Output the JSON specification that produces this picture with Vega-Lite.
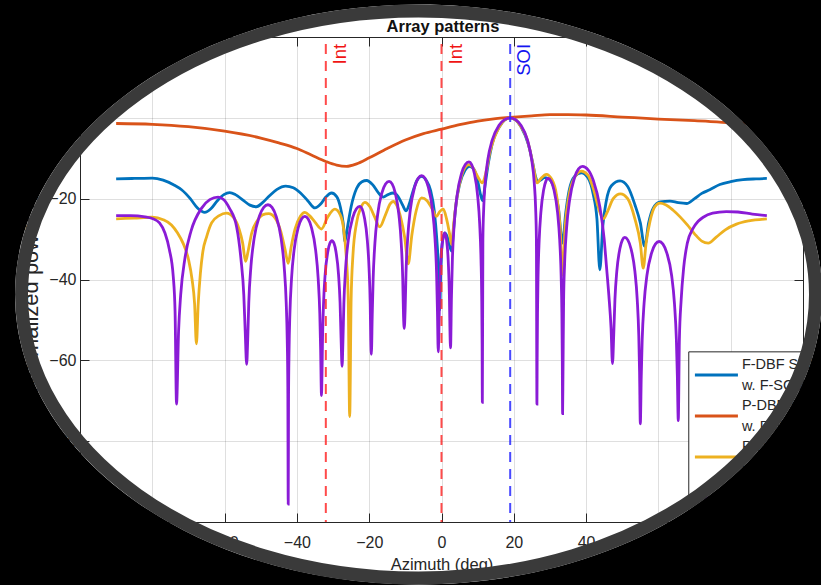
{
  "$schema": "https://vega.github.io/schema/vega-lite/v6.json",
  "width": 723,
  "height": 485,
  "autosize": {"type": "none"},
  "padding": {"left": 80, "top": 37, "right": 18, "bottom": 63},
  "background": "#ffffff",
  "config": {"view": {"stroke": "#262626", "strokeWidth": 1}},
  "datasets": {
    "blue": [
      {"az":-90,"db":-15.1},{"az":-85,"db":-15.0},{"az":-80,"db":-14.9},{"az":-77,"db":-15.4},{"az":-74,"db":-16.6},{"az":-71.9,"db":-17.8},{"az":-69.5,"db":-20.0},{"az":-67.5,"db":-22.3},{"az":-65.5,"db":-23.4},{"az":-63.8,"db":-22.5},{"az":-62,"db":-20.5},{"az":-60.2,"db":-19.0},{"az":-58.6,"db":-18.5},{"az":-57,"db":-19.0},{"az":-55,"db":-20.3},{"az":-53,"db":-21.6},{"az":-51.2,"db":-22.0},{"az":-49.5,"db":-21.0},{"az":-47.5,"db":-19.2},{"az":-45.5,"db":-17.7},{"az":-43.1,"db":-16.9},{"az":-41,"db":-17.3},{"az":-39,"db":-18.6},{"az":-37,"db":-20.5},{"az":-35,"db":-22.3},{"az":-33.5,"db":-21.4},{"az":-32,"db":-19.6},{"az":-30.4,"db":-18.6},{"az":-29,"db":-19.5},{"az":-28,"db":-22},{"az":-27.2,"db":-26},{"az":-26.7,"db":-30.6},{"az":-26,"db":-27},{"az":-25,"db":-22},{"az":-23.5,"db":-17.5},{"az":-22,"db":-15.8},{"az":-20.7,"db":-15.5},{"az":-19,"db":-16.6},{"az":-17.5,"db":-18.5},{"az":-16.1,"db":-19.6},{"az":-14.8,"db":-19.0},{"az":-13.4,"db":-18.6},{"az":-12,"db":-19.5},{"az":-10.8,"db":-21.5},{"az":-9.8,"db":-23},{"az":-8.8,"db":-21},{"az":-8,"db":-18.5},{"az":-6.8,"db":-15.5},{"az":-5.5,"db":-14.5},{"az":-4.2,"db":-15.5},{"az":-3,"db":-18},{"az":-2,"db":-23},{"az":-1.3,"db":-30},{"az":-0.8,"db":-38},{"az":-0.5,"db":-47.6},{"az":-0.2,"db":-38},{"az":0.2,"db":-31},{"az":0.9,"db":-28.5},{"az":1.6,"db":-29.5},{"az":2.2,"db":-31.5},{"az":2.8,"db":-33},{"az":3.3,"db":-28},{"az":4,"db":-21.5},{"az":5,"db":-16.5},{"az":6.5,"db":-13},{"az":7.8,"db":-12},{"az":9,"db":-12.8},{"az":10,"db":-15.5},{"az":10.8,"db":-19},{"az":11.4,"db":-20.5},{"az":12,"db":-17},{"az":13,"db":-11},{"az":14,"db":-6.5},{"az":16,"db":-2.2},{"az":17.5,"db":-0.5},{"az":19,"db":0},{"az":20.5,"db":-0.5},{"az":22,"db":-2.2},{"az":24,"db":-6.5},{"az":25.2,"db":-11},{"az":26,"db":-14.5},{"az":26.6,"db":-15.8},{"az":27.4,"db":-15.4},{"az":28.5,"db":-14.8},{"az":29.5,"db":-15.0},{"az":31,"db":-17},{"az":32.3,"db":-22},{"az":33.5,"db":-31},{"az":34.3,"db":-24},{"az":35.3,"db":-18},{"az":36.8,"db":-14.5},{"az":38.7,"db":-13.6},{"az":40.5,"db":-14.8},{"az":42,"db":-19},{"az":43,"db":-25},{"az":43.8,"db":-37.6},{"az":44.6,"db":-27},{"az":45.6,"db":-20.5},{"az":47,"db":-16.8},{"az":49.4,"db":-15.6},{"az":51.5,"db":-17},{"az":53.5,"db":-21.5},{"az":55,"db":-26},{"az":56.2,"db":-31.8},{"az":57.3,"db":-26},{"az":58.6,"db":-22.3},{"az":60.5,"db":-20.8},{"az":63.2,"db":-20.6},{"az":65.5,"db":-21.0},{"az":67.8,"db":-21.2},{"az":70,"db":-20.0},{"az":72,"db":-18.7},{"az":74.2,"db":-17.8},{"az":77,"db":-16.5},{"az":80,"db":-15.8},{"az":83.4,"db":-15.3},{"az":87,"db":-15.1},{"az":90,"db":-15.0}
    ],
    "orange": [
      {"az":-90,"db":-1.4},{"az":-80,"db":-1.6},{"az":-70,"db":-2.2},{"az":-60,"db":-3.3},{"az":-50,"db":-5.0},{"az":-45,"db":-6.2},{"az":-40,"db":-7.6},{"az":-36,"db":-9.2},{"az":-32,"db":-10.8},{"az":-29,"db":-11.7},{"az":-26.3,"db":-12.0},{"az":-23.5,"db":-11.4},{"az":-20,"db":-9.9},{"az":-15,"db":-7.6},{"az":-10,"db":-5.5},{"az":-5,"db":-3.9},{"az":0,"db":-2.8},{"az":5,"db":-1.7},{"az":10,"db":-0.8},{"az":15,"db":-0.2},{"az":19,"db":0.1},{"az":25,"db":0.5},{"az":30,"db":0.8},{"az":35,"db":0.8},{"az":40,"db":0.7},{"az":50,"db":0.2},{"az":60,"db":-0.3},{"az":70,"db":-0.7},{"az":80,"db":-1.2},{"az":90,"db":-1.5}
    ],
    "yellow": [
      {"az":-90,"db":-25.0},{"az":-85,"db":-24.8},{"az":-80,"db":-24.6},{"az":-77,"db":-25.2},{"az":-74.7,"db":-26.5},{"az":-73,"db":-28.5},{"az":-71.5,"db":-31},{"az":-70,"db":-35},{"az":-69,"db":-40},{"az":-68.3,"db":-46},{"az":-67.8,"db":-55.9},{"az":-67.3,"db":-46},{"az":-66.7,"db":-38.5},{"az":-66.0,"db":-33},{"az":-65,"db":-29.5},{"az":-63.6,"db":-26},{"az":-61.5,"db":-24.2},{"az":-59.5,"db":-23.6},{"az":-57.5,"db":-24.7},{"az":-56,"db":-27.5},{"az":-55,"db":-31},{"az":-54.2,"db":-35.5},{"az":-53.5,"db":-33},{"az":-52.5,"db":-28.5},{"az":-51,"db":-25.5},{"az":-49.5,"db":-24},{"az":-47.8,"db":-23.7},{"az":-46,"db":-24.8},{"az":-44.5,"db":-28},{"az":-43.3,"db":-32.5},{"az":-42.4,"db":-36},{"az":-41.6,"db":-32},{"az":-40.5,"db":-27.5},{"az":-39,"db":-24.3},{"az":-37.8,"db":-23.4},{"az":-36.5,"db":-24.2},{"az":-35,"db":-25.8},{"az":-33.2,"db":-27.5},{"az":-31.5,"db":-24.6},{"az":-29.5,"db":-22.6},{"az":-28,"db":-24},{"az":-27,"db":-28},{"az":-26.3,"db":-35},{"az":-25.8,"db":-45},{"az":-25.4,"db":-73.9},{"az":-25.0,"db":-45},{"az":-24.5,"db":-34},{"az":-23.5,"db":-26},{"az":-22.3,"db":-22.2},{"az":-21.2,"db":-20.9},{"az":-19.8,"db":-22},{"az":-18.5,"db":-24.5},{"az":-17.1,"db":-27},{"az":-15.5,"db":-24},{"az":-14.2,"db":-21.3},{"az":-13.4,"db":-20.7},{"az":-12.3,"db":-21.8},{"az":-11.2,"db":-25},{"az":-10.2,"db":-29.5},{"az":-9.2,"db":-36.1},{"az":-8.2,"db":-29},{"az":-7,"db":-23},{"az":-5.5,"db":-19.8},{"az":-4,"db":-20.5},{"az":-2.6,"db":-22.5},{"az":-1.4,"db":-24.4},{"az":-0.5,"db":-23.2},{"az":0.5,"db":-22.6},{"az":1.4,"db":-25},{"az":2.2,"db":-28.5},{"az":2.8,"db":-31.4},{"az":3.4,"db":-26},{"az":4.3,"db":-19.5},{"az":5.5,"db":-14.5},{"az":6.5,"db":-12.3},{"az":7.6,"db":-11.6},{"az":8.8,"db":-12.5},{"az":10,"db":-14.5},{"az":11.3,"db":-16.1},{"az":12.3,"db":-13.5},{"az":13.4,"db":-8.5},{"az":14.5,"db":-5.2},{"az":16,"db":-2.2},{"az":17.5,"db":-0.5},{"az":19,"db":0},{"az":20.5,"db":-0.5},{"az":22,"db":-2.2},{"az":23.5,"db":-4.8},{"az":24.6,"db":-8.5},{"az":25.6,"db":-13},{"az":26.4,"db":-16.1},{"az":27.5,"db":-15},{"az":29,"db":-14},{"az":30.5,"db":-15.2},{"az":31.8,"db":-19},{"az":32.8,"db":-27},{"az":33.5,"db":-38.9},{"az":34.2,"db":-27},{"az":35.2,"db":-19.5},{"az":36.8,"db":-14.8},{"az":38.7,"db":-13.2},{"az":40.5,"db":-14.2},{"az":42,"db":-17.5},{"az":43.5,"db":-22.5},{"az":44.8,"db":-25},{"az":46,"db":-23},{"az":47.5,"db":-20},{"az":49.5,"db":-18.8},{"az":51.5,"db":-20},{"az":53.5,"db":-25},{"az":55,"db":-31},{"az":55.8,"db":-37.2},{"az":56.6,"db":-31},{"az":57.7,"db":-25.5},{"az":59,"db":-22},{"az":60.4,"db":-21.1},{"az":62,"db":-21.5},{"az":64,"db":-22.8},{"az":66,"db":-24.5},{"az":68,"db":-26.5},{"az":70,"db":-28.7},{"az":72,"db":-30.5},{"az":73.8,"db":-31},{"az":76,"db":-29.5},{"az":78.5,"db":-27.7},{"az":81.6,"db":-26.3},{"az":85,"db":-25.5},{"az":90,"db":-25.0}
    ],
    "purple": [
      {"az":-90,"db":-24.2},{"az":-86,"db":-24.2},{"az":-82,"db":-24.5},{"az":-80,"db":-24.9},{"az":-78,"db":-26.0},{"az":-76.5,"db":-28.5},{"az":-75.3,"db":-32.5},{"az":-74.2,"db":-39.3},{"az":-73.7,"db":-48},{"az":-73.3,"db":-70.8},
      {"az":-72.73,"db":-52.8},{"az":-72.15,"db":-43.8},{"az":-71.0,"db":-34.9},{"az":-69.28,"db":-28.0},{"az":-66.4,"db":-22.4},{"az":-64.1,"db":-20.25},{"az":-61.8,"db":-19.6},
      {"az":-60.22,"db":-20.25},{"az":-58.64,"db":-22.4},{"az":-56.67,"db":-27},{"az":-55.48,"db":-34.9},{"az":-54.69,"db":-43.8},{"az":-54.3,"db":-52.8},{"az":-53.9,"db":-61.0},
      {"az":-53.6,"db":-54.7},{"az":-53.31,"db":-45.7},{"az":-52.72,"db":-36.8},{"az":-51.84,"db":-29.9},{"az":-50.36,"db":-24.3},{"az":-49.18,"db":-22.15},{"az":-48,"db":-21.5},{"az":-46.88,"db":-22.15},{"az":-45.76,"db":-24.3},{"az":-44.36,"db":-29.9},{"az":-43.52,"db":-36.8},{"az":-42.96,"db":-45.7},{"az":-42.68,"db":-54.7},{"az":-42.51,"db":-66.6},{"az":-42.4,"db":-95.6},
      {"az":-42.31,"db":-69.5},{"az":-42.17,"db":-57.6},{"az":-41.94,"db":-48.6},{"az":-41.48,"db":-39.7},{"az":-40.79,"db":-32.8},{"az":-39.64,"db":-27.2},{"az":-38.72,"db":-25.05},{"az":-37.8,"db":-24.4},{"az":-36.88,"db":-25.05},{"az":-35.96,"db":-27.2},{"az":-34.81,"db":-32.8},{"az":-34.12,"db":-39.7},{"az":-33.66,"db":-48.6},{"az":-33.43,"db":-57.6},{"az":-33.2,"db":-68.7},
      {"az":-33.06,"db":-63.6},{"az":-32.91,"db":-54.6},{"az":-32.62,"db":-45.7},{"az":-32.19,"db":-38.8},{"az":-31.46,"db":-33.2},{"az":-30.88,"db":-31.05},{"az":-30.3,"db":-30.4},{"az":-29.74,"db":-31.05},{"az":-29.18,"db":-33.2},{"az":-28.48,"db":-38.8},{"az":-28.06,"db":-45.7},{"az":-27.78,"db":-54.6},{"az":-27.5,"db":-61.5},
      {"az":-27.26,"db":-55.1},{"az":-27.01,"db":-46.1},{"az":-26.52,"db":-37.2},{"az":-25.79,"db":-30.3},{"az":-24.56,"db":-24.7},{"az":-23.58,"db":-22.55},{"az":-22.6,"db":-21.9},{"az":-21.96,"db":-22.55},{"az":-21.32,"db":-24.7},{"az":-20.52,"db":-30.3},{"az":-20.04,"db":-37.2},{"az":-19.72,"db":-46.1},{"az":-19.56,"db":-55.1},{"az":-19.4,"db":-58.5},
      {"az":-19.16,"db":-48.9},{"az":-18.91,"db":-39.9},{"az":-18.42,"db":-31.0},{"az":-17.69,"db":-24.1},{"az":-16.46,"db":-18.5},{"az":-15.48,"db":-16.35},{"az":-14.5,"db":-15.7},{"az":-13.66,"db":-16.35},{"az":-12.82,"db":-18.5},{"az":-11.77,"db":-24.1},{"az":-11.14,"db":-31.0},{"az":-10.72,"db":-39.9},{"az":-10.51,"db":-48.9},{"az":-10.3,"db":-52.1},
      {"az":-10.06,"db":-47.5},{"az":-9.82,"db":-38.5},{"az":-9.34,"db":-29.6},{"az":-8.62,"db":-22.7},{"az":-7.42,"db":-17.1},{"az":-6.46,"db":-14.95},{"az":-5.5,"db":-14.3},{"az":-4.58,"db":-14.95},{"az":-3.66,"db":-17.1},{"az":-2.51,"db":-22.7},{"az":-1.82,"db":-29.6},{"az":-1.36,"db":-38.5},{"az":-1.13,"db":-47.5},{"az":-0.9,"db":-57.9},
      {"az":-0.72,"db":-52.7},{"az":-0.54,"db":-43.8},{"az":-0.27,"db":-36.9},{"az":0.18,"db":-31.3},{"az":0.9,"db":-28.5},{"az":1.54,"db":-31.3},{"az":1.94,"db":-36.9},{"az":2.18,"db":-43.8},{"az":2.34,"db":-52.7},{"az":2.5,"db":-56.9},
      {"az":2.76,"db":-44.1},{"az":3.01,"db":-35.1},{"az":3.52,"db":-26.2},{"az":4.29,"db":-19.3},{"az":5.56,"db":-13.7},{"az":6.58,"db":-11.55},{"az":7.6,"db":-10.9},{"az":8.34,"db":-11.55},{"az":9.08,"db":-13.7},{"az":10.0,"db":-19.3},{"az":10.56,"db":-26.2},{"az":10.93,"db":-35.1},{"az":11.12,"db":-44.1},{"az":11.23,"db":-56},{"az":11.3,"db":-70.4},
      {"az":11.45,"db":-30.1},{"az":11.69,"db":-22.1},{"az":12.07,"db":-16.1},{"az":12.84,"db":-10.2},{"az":14.0,"db":-5.6},{"az":15.92,"db":-1.84},{"az":17.46,"db":-0.44},{"az":19,"db":0},{"az":20.48,"db":-0.44},{"az":21.96,"db":-1.84},{"az":23.81,"db":-5.6},{"az":24.92,"db":-10.2},{"az":25.66,"db":-16.1},{"az":26.03,"db":-22.1},{"az":26.25,"db":-30.1},{"az":26.4,"db":-70.8},
      {"az":26.46,"db":-60.1},{"az":26.56,"db":-48.2},{"az":26.71,"db":-39.2},{"az":27.02,"db":-30.3},{"az":27.49,"db":-23.4},{"az":28.26,"db":-17.8},{"az":28.88,"db":-15.65},{"az":29.5,"db":-15},{"az":30.3,"db":-15.65},{"az":31.1,"db":-17.8},{"az":32.1,"db":-23.4},{"az":32.7,"db":-30.3},{"az":33.1,"db":-39.2},{"az":33.3,"db":-48.2},{"az":33.42,"db":-60.1},{"az":33.5,"db":-73.2},
      {"az":33.61,"db":-62.5},{"az":33.78,"db":-45.2},{"az":34.05,"db":-36.2},{"az":34.6,"db":-27.3},{"az":35.43,"db":-20.4},{"az":36.8,"db":-14.8},{"az":37.9,"db":-12.65},{"az":39,"db":-12},{"az":40.5,"db":-12.8},{"az":42,"db":-15.5},{"az":43.8,"db":-22},{"az":45,"db":-30},{"az":45.6,"db":-36.4},{"az":46.3,"db":-44},{"az":46.9,"db":-52},{"az":47.3,"db":-60.8},
      {"az":47.64,"db":-53.8},{"az":47.98,"db":-44.9},{"az":48.49,"db":-38.0},{"az":49.34,"db":-32.4},{"az":50.02,"db":-30.25},{"az":50.7,"db":-29.6},{"az":51.56,"db":-30.25},{"az":52.42,"db":-32.4},{"az":53.5,"db":-38.0},{"az":54.14,"db":-44.9},{"az":54.57,"db":-53.8},{"az":54.79,"db":-62.8},{"az":55,"db":-75.7},
      {"az":55.26,"db":-63.8},{"az":55.52,"db":-54.8},{"az":56.04,"db":-45.9},{"az":56.82,"db":-39.0},{"az":58.12,"db":-33.4},{"az":59.16,"db":-31.25},{"az":60.2,"db":-30.6},{"az":61.26,"db":-31.25},{"az":62.32,"db":-33.4},{"az":63.66,"db":-39.0},{"az":64.44,"db":-45.9},{"az":64.97,"db":-54.8},{"az":65.24,"db":-63.8},{"az":65.5,"db":-74.9},
      {"az":65.8,"db":-55},{"az":66.3,"db":-45},{"az":67,"db":-37},{"az":68,"db":-31},{"az":69.5,"db":-27.5},{"az":71,"db":-25.6},{"az":72.4,"db":-24.6},{"az":75,"db":-23.6},{"az":78.8,"db":-23.2},{"az":82,"db":-23.3},{"az":86,"db":-23.8},{"az":90,"db":-24.2}
    ],
    "markers": [
      {"az": -32, "label": "Int"},
      {"az": 0, "label": "Int"},
      {"az": 19, "label": "SOI"}
    ],
    "entries": [
      {"entry": "F-DBF SMI\nw. F-SCM"},
      {"entry": "P-DBF SMI\nw. P-SCM"},
      {"entry": "P-DBF SMI\nw. F-SCM"},
      {"entry": "F-DBF SMI\nw. P-SCM"}
    ]
  },
  "resolve": {"scale": {"y": "independent", "color": "independent"}, "axis": {"x": "independent", "y": "independent"}},
  "layer": [
    {
      "data": {"name": "blue"},
      "mark": {"type": "line", "color": "#0072BD", "strokeWidth": 2.8, "interpolate": "monotone"},
      "encoding": {
        "x": {"field": "az", "type": "quantitative", "scale": {"domain": [-100, 100], "nice": false, "zero": false},
          "axis": {"orient": "bottom", "values": [-100,-80,-60,-40,-20,0,20,40,60,80,100], "title": "Azimuth (deg)",
            "grid": true, "gridColor": "#262626", "gridOpacity": 0.15, "domain": false,
            "tickColor": "#262626", "tickSize": -9, "labelPadding": 21, "labelFlush": false, "labelOverlap": false,
            "labelFont": "Liberation Sans", "labelFontSize": 16, "labelColor": "#262626",
            "titleFont": "Liberation Sans", "titleFontSize": 16.5, "titleFontWeight": "normal", "titleColor": "#262626", "titlePadding": 6}},
        "y": {"field": "db", "type": "quantitative", "scale": {"domain": [-100, 20], "nice": false, "zero": false},
          "axis": {"orient": "left", "values": [-100,-80,-60,-40,-20,0,20], "title": "Normalized power (dB)",
            "grid": true, "gridColor": "#262626", "gridOpacity": 0.15, "domain": false,
            "tickColor": "#262626", "tickSize": -9, "labelPadding": 13, "labelOverlap": false, "labelFlush": false,
            "labelFont": "Liberation Sans", "labelFontSize": 16, "labelColor": "#262626",
            "titleFont": "Liberation Sans", "titleFontSize": 22, "titleFontWeight": "normal", "titleColor": "#262626", "titlePadding": -3}}
      }
    },
    {
      "data": {"name": "orange"},
      "mark": {"type": "line", "color": "#D95319", "strokeWidth": 2.8, "interpolate": "monotone"},
      "encoding": {
        "x": {"field": "az", "type": "quantitative", "scale": {"domain": [-100, 100], "nice": false, "zero": false}, "axis": null},
        "y": {"field": "db", "type": "quantitative", "scale": {"domain": [-100, 20], "nice": false, "zero": false},
          "axis": {"orient": "right", "values": [-100,-80,-60,-40,-20,0,20], "labels": false, "title": null,
            "grid": false, "domain": false, "tickColor": "#262626", "tickSize": -9}}
      }
    },
    {
      "data": {"name": "yellow"},
      "mark": {"type": "line", "color": "#EDB120", "strokeWidth": 2.8, "interpolate": "monotone"},
      "encoding": {
        "x": {"field": "az", "type": "quantitative", "scale": {"domain": [-100, 100], "nice": false, "zero": false}, "axis": null},
        "y": {"field": "db", "type": "quantitative", "scale": {"domain": [-100, 20], "nice": false, "zero": false}, "axis": null}
      }
    },
    {
      "data": {"name": "purple"},
      "mark": {"type": "line", "color": "#8A1BD6", "strokeWidth": 2.8, "interpolate": "monotone"},
      "encoding": {
        "x": {"field": "az", "type": "quantitative", "scale": {"domain": [-100, 100], "nice": false, "zero": false}, "axis": null},
        "y": {"field": "db", "type": "quantitative", "scale": {"domain": [-100, 20], "nice": false, "zero": false}, "axis": null}
      }
    },
    {
      "data": {"name": "markers"},
      "mark": {"type": "rule", "strokeWidth": 2, "strokeDash": [10, 7], "strokeDashOffset": 10, "opacity": 0.85},
      "encoding": {
        "x": {"field": "az", "type": "quantitative", "scale": {"domain": [-100, 100], "nice": false, "zero": false},
          "axis": {"orient": "top", "values": [-100,-80,-60,-40,-20,0,20,40,60,80,100], "labels": false, "title": null,
            "grid": false, "domain": false, "tickColor": "#262626", "tickSize": -9}},
        "color": {"field": "label", "type": "nominal", "scale": {"domain": ["Int", "SOI"], "range": ["#ff2a2a", "#2a2aff"]}, "legend": null}
      }
    },
    {
      "data": {"name": "markers"},
      "mark": {"type": "text", "angle": 270, "align": "right", "baseline": "alphabetic", "dy": 20, "font": "Liberation Sans", "fontSize": 18.5},
      "encoding": {
        "x": {"field": "az", "type": "quantitative", "scale": {"domain": [-100, 100], "nice": false, "zero": false}, "axis": null},
        "y": {"datum": 18.3, "type": "quantitative", "scale": {"domain": [-100, 20], "nice": false, "zero": false}, "axis": null},
        "text": {"field": "label"},
        "color": {"field": "label", "type": "nominal", "scale": {"domain": ["Int", "SOI"], "range": ["#f01414", "#1414f0"]}, "legend": null}
      }
    },
    {
      "data": {"values": [{}]},
      "mark": {"type": "rect", "fill": "#ffffff", "stroke": "#262626", "strokeWidth": 1},
      "encoding": {
        "x": {"datum": 68.4, "type": "quantitative", "scale": {"domain": [-100, 100], "nice": false, "zero": false}, "axis": null},
        "x2": {"datum": 100},
        "y": {"datum": -57.9, "type": "quantitative", "scale": {"domain": [-100, 20], "nice": false, "zero": false}, "axis": null},
        "y2": {"datum": -100}
      }
    },
    {
      "data": {"name": "entries"},
      "mark": {"type": "rule", "strokeWidth": 2.8},
      "encoding": {
        "x": {"datum": 70.1, "type": "quantitative", "scale": {"domain": [-100, 100], "nice": false, "zero": false}, "axis": null},
        "x2": {"datum": 82.0},
        "y": {"field": "entry", "type": "nominal", "sort": null, "scale": {"type": "point", "range": [338, 461], "padding": 0}, "axis": null},
        "color": {"field": "entry", "type": "nominal", "sort": null, "scale": {"range": ["#0072BD", "#D95319", "#EDB120", "#8A1BD6"]}, "legend": null}
      }
    },
    {
      "data": {"name": "entries"},
      "mark": {"type": "text", "align": "left", "baseline": "middle", "dy": -10.5, "lineBreak": "\n", "lineHeight": 21, "font": "Liberation Sans", "fontSize": 14.5, "color": "#262626"},
      "encoding": {
        "x": {"datum": 83.1, "type": "quantitative", "scale": {"domain": [-100, 100], "nice": false, "zero": false}, "axis": null},
        "y": {"field": "entry", "type": "nominal", "sort": null, "scale": {"type": "point", "range": [338, 461], "padding": 0}, "axis": null},
        "text": {"field": "entry"}
      }
    },
    {
      "data": {"values": [{"title": "Array patterns"}]},
      "mark": {"type": "text", "align": "center", "baseline": "alphabetic", "dy": -5.5, "font": "Liberation Sans", "fontSize": 16.5, "fontWeight": "bold", "color": "#111111"},
      "encoding": {
        "x": {"datum": 0.4, "type": "quantitative", "scale": {"domain": [-100, 100], "nice": false, "zero": false}, "axis": null},
        "y": {"datum": 20, "type": "quantitative", "scale": {"domain": [-100, 20], "nice": false, "zero": false}, "axis": null},
        "text": {"field": "title"}
      }
    },
    {
      "data": {"values": [{}]},
      "mark": {"type": "point", "shape": "M-1000,-1000L1000,-1000L1000,1000L-1000,1000Z M-403.5,0A403.5,290 0 0 0 0,290A403.5,290 0 0 0 403.5,0A403.5,290 0 0 0 0,-290A403.5,290 0 0 0 -403.5,0Z", "size": 4, "filled": true, "fill": "#000000", "strokeWidth": 0, "opacity": 1},
      "encoding": {
        "x": {"datum": -6.36, "type": "quantitative", "scale": {"domain": [-100, 100], "nice": false, "zero": false}, "axis": null},
        "y": {"datum": -43.7, "type": "quantitative", "scale": {"domain": [-100, 20], "nice": false, "zero": false}, "axis": null}
      }
    },
    {
      "data": {"values": [{}]},
      "mark": {"type": "point", "shape": "M-397,0A397,283.5 0 0 1 0,-283.5A397,283.5 0 0 1 397,0A397,283.5 0 0 1 0,283.5A397,283.5 0 0 1 -397,0Z", "size": 4, "filled": false, "color": "#3a3a3a", "strokeWidth": 13, "opacity": 1},
      "encoding": {
        "x": {"datum": -6.36, "type": "quantitative", "scale": {"domain": [-100, 100], "nice": false, "zero": false}, "axis": null},
        "y": {"datum": -43.7, "type": "quantitative", "scale": {"domain": [-100, 20], "nice": false, "zero": false}, "axis": null}
      }
    }
  ]
}
